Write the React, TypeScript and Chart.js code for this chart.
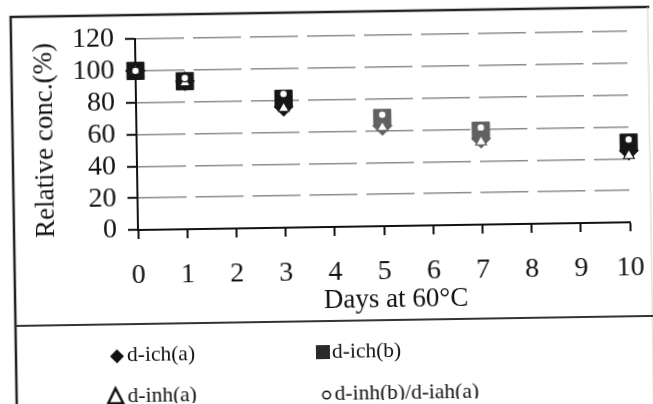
import { useEffect, useRef } from "react";
import { Chart, registerables } from "chart.js";

Chart.register(...registerables);

// ---- data ----
const days = [0, 1, 3, 5, 7, 10];
const dIchA = [100, 93, 76, 63, 54, 45]; // diamonds
const dIchB = [100, 93, 81, 68, 59, 50]; // squares
const dInhA = [100, 92, 75, 62, 52, 42]; // triangles
const dInhBIahA = [100, 95, 84, 70, 61, 52]; // circles
const seriesNames = ["d-ich(a)", "d-ich(b)", "d-inh(a)", "d-inh(b)/d-iah(a)"];
const xTitle = "Days at 60°C";
const yTitle = "Relative conc.(%)";
const yMin = 0;
const yMax = 120;
const yStep = 20;
const xMin = 0;
const xMax = 10;
const xStep = 1;

// per-point shade (scan shows points at day 5 and 7 lighter)
const shade = ["#161616", "#161616", "#161616", "#616161", "#616161", "#161616"];

const serif = "'Liberation Serif', 'Times New Roman', serif";

function pts(vals: number[]) {
  return days.map((d, i) => ({ x: d, y: vals[i] }));
}

export default function App() {
  const ref = useRef<HTMLCanvasElement | null>(null);

  useEffect(() => {
    const canvas = ref.current;
    if (!canvas) return;

    const decor = {
      id: "decor",
      beforeDraw(c: any) {
        const ctx = c.ctx;
        ctx.save();
        ctx.fillStyle = "#ffffff";
        ctx.fillRect(0, 0, c.width, c.height);
        ctx.restore();
      },
      afterDraw(c: any) {
        const ctx: CanvasRenderingContext2D = c.ctx;
        ctx.save();
        // outer frame
        ctx.strokeStyle = "#222";
        ctx.lineWidth = 2.5;
        ctx.beginPath();
        ctx.moveTo(14, 440);
        ctx.lineTo(14, 15);
        ctx.lineTo(660, 15);
        ctx.stroke();
        ctx.strokeStyle = "#d0d0d0";
        ctx.lineWidth = 1;
        ctx.beginPath();
        ctx.moveTo(651, 15);
        ctx.lineTo(651, 440);
        ctx.stroke();
        // divider between plot and legend
        ctx.strokeStyle = "#333";
        ctx.lineWidth = 2;
        ctx.beginPath();
        ctx.moveTo(14, 324);
        ctx.lineTo(660, 324);
        ctx.stroke();

        // axis titles
        ctx.fillStyle = "#111";
        ctx.font = `27px ${serif}`;
        ctx.textAlign = "center";
        ctx.textBaseline = "middle";
        ctx.fillText(xTitle, 395, 304);
        ctx.save();
        ctx.translate(47, 139);
        ctx.rotate(-Math.PI / 2);
        ctx.fillText(yTitle, 0, 0);
        ctx.restore();

        // legend
        ctx.font = `21.5px ${serif}`;
        ctx.textAlign = "left";
        ctx.textBaseline = "middle";
        ctx.fillStyle = "#111";
        // diamond
        ctx.beginPath();
        ctx.moveTo(115, 349);
        ctx.lineTo(122, 356);
        ctx.lineTo(115, 363);
        ctx.lineTo(108, 356);
        ctx.closePath();
        ctx.fill();
        ctx.fillText(seriesNames[0], 125, 355);
        // square
        ctx.fillStyle = "#2a2a2a";
        ctx.fillRect(314, 348, 14, 14);
        ctx.fillStyle = "#111";
        ctx.fillText(seriesNames[1], 330, 355);
        // triangle
        ctx.strokeStyle = "#111";
        ctx.lineWidth = 2.5;
        ctx.beginPath();
        ctx.moveTo(113, 388);
        ctx.lineTo(120.5, 403);
        ctx.lineTo(105.5, 403);
        ctx.closePath();
        ctx.stroke();
        ctx.fillText(seriesNames[2], 125, 396);
        // circle
        ctx.lineWidth = 1.5;
        ctx.beginPath();
        ctx.arc(324, 398, 3.8, 0, Math.PI * 2);
        ctx.stroke();
        ctx.fillText(seriesNames[3], 332, 397);
        ctx.restore();
      },
    };

    const chart = new Chart(canvas, {
      type: "scatter",
      data: {
        datasets: [
          {
            label: seriesNames[3],
            data: pts(dInhBIahA),
            pointStyle: "circle",
            pointRadius: 3.8,
            pointBackgroundColor: "#ffffff",
            pointBorderColor: shade,
            pointBorderWidth: 1.2,
            clip: false,
            order: 1,
          },
          {
            label: seriesNames[2],
            data: pts(dInhA),
            pointStyle: "triangle",
            pointRadius: 6.2,
            pointBackgroundColor: "#ffffff",
            pointBorderColor: shade,
            pointBorderWidth: 1.2,
            clip: false,
            order: 2,
          },
          {
            label: seriesNames[1],
            data: pts(dIchB),
            pointStyle: "rect",
            pointRadius: 12.2,
            pointBackgroundColor: shade,
            pointBorderColor: shade,
            pointBorderWidth: 1,
            clip: false,
            order: 3,
          },
          {
            label: seriesNames[0],
            data: pts(dIchA),
            pointStyle: "rectRot",
            pointRadius: 9.5,
            pointBackgroundColor: shade,
            pointBorderColor: shade,
            pointBorderWidth: 1,
            clip: false,
            order: 4,
          },
        ],
      },
      options: {
        responsive: false,
        maintainAspectRatio: false,
        animation: false,
        events: [],
        layout: { padding: { left: 0, right: 23, top: 39, bottom: 0 } },
        plugins: {
          legend: { display: false },
          tooltip: { enabled: false },
        },
        scales: {
          x: {
            type: "linear",
            min: xMin,
            max: xMax,
            afterFit(scale: any) {
              scale.height = 404 - 230;
              scale.paddingLeft = 0;
              scale.paddingRight = 0;
            },
            ticks: {
              stepSize: xStep,
              autoSkip: false,
              color: "#111",
              font: { family: serif, size: 28 },
              padding: 20,
              maxRotation: 0,
            },
            grid: {
              drawOnChartArea: false,
              drawTicks: true,
              tickLength: 9,
              tickColor: "#111",
              tickWidth: 2,
            },
            border: { display: true, color: "#111", width: 2 },
          },
          y: {
            type: "linear",
            min: yMin,
            max: yMax,
            afterFit(scale: any) {
              scale.width = 138;
              scale.paddingTop = 0;
              scale.paddingBottom = 0;
            },
            ticks: {
              stepSize: yStep,
              autoSkip: false,
              color: "#111",
              font: { family: serif, size: 28 },
              padding: 11,
            },
            grid: {
              color: "#8c8c8c",
              lineWidth: 1.5,
              drawTicks: true,
              tickLength: 10,
              tickColor: "#111",
              tickWidth: 2,
            },
            border: { display: true, color: "#111", width: 2, dash: [48, 9] },
          },
        },
      },
      plugins: [decor],
    } as any);

    return () => chart.destroy();
  }, []);

  return (
    <div
      style={{
        position: "fixed",
        left: 0,
        top: 0,
        width: 653,
        height: 404,
        background: "#ffffff",
        overflow: "hidden",
      }}
    >
      <canvas
        ref={ref}
        width={653}
        height={404}
        style={{
          display: "block",
          width: 653,
          height: 404,
          transform: "rotate(-0.9deg)",
          transformOrigin: "138px 230px",
        }}
      />
    </div>
  );
}
